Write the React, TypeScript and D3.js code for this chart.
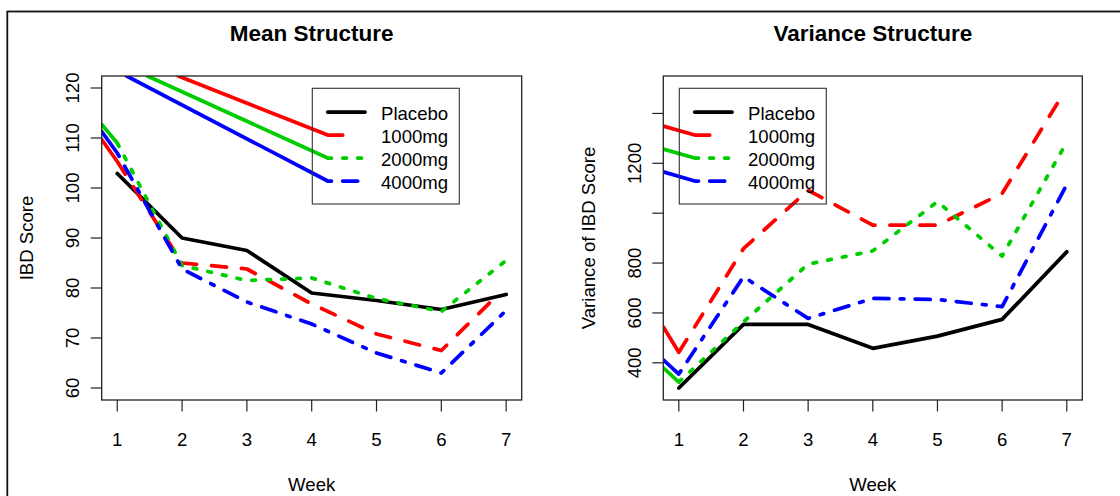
import * as d3 from "d3";

// weeks and dose groups
const weeks = [1, 2, 3, 4, 5, 6, 7];
const doseNames = ["Placebo", "1000mg", "2000mg", "4000mg"];

// mean IBD score per week
const meanPlacebo = [102.9, 90.0, 87.5, 79.0, 77.5, 75.7, 78.7];
const mean1000 = [105.3, 85.0, 83.8, 76.8, 70.8, 67.5, 80.3];
const mean2000 = [109.0, 84.5, 81.5, 82.0, 77.9, 75.3, 85.5];
const mean4000 = [107.0, 83.8, 77.2, 72.8, 67.0, 63.0, 75.5];

// variance of IBD score per week
const varPlacebo = [299, 554, 554, 458, 507, 574, 845];
const var1000 = [442, 858, 1092, 952, 952, 1079, 1502];
const var2000 = [323, 564, 796, 849, 1046, 828, 1285];
const var4000 = [355, 745, 578, 658, 654, 625, 1115];

// tick values
const meanTicks = [60, 70, 80, 90, 100, 110, 120];
const meanLimits = [60, 120];
const varTicks = [400, 600, 800, 1000, 1200, 1400];
const varTickLabels = [400, 600, 800, 1200];

// stray first segments in the original rendering (week, value)
const meanLineStarts = [null, [0.76, 109.7], [0.76, 112.7], [0.76, 111.3]];
const meanLegendStarts = [null, [1.942, 122.4], [1.466, 122.4], [1.145, 122.4]];
const varLineStarts = [null, [0.76, 544], [0.76, 380], [0.76, 412]];
const varLegendStarts = [null, [0.76, 1349], [0.76, 1257], [0.76, 1166]];

const colors = ["#000000", "#ff0000", "#00cd00", "#0000ff"];
const LWD = 3.75;
const patterns = [null, [4, 4], [1, 3], [1, 3, 4, 3]].map((p) =>
  p ? p.map((v) => v * LWD) : null
);
const FONT = "'Liberation Sans', Arial, Helvetica, sans-serif";

// split a polyline into the complete dashes of a pattern
function dashPieces(pts, pattern) {
  if (!pattern) return [pts];
  const pieces = [];
  let pi = 0;
  let remain = pattern[0];
  let on = true;
  let cur = [pts[0]];
  for (let i = 0; i < pts.length - 1; i++) {
    const [x0, y0] = pts[i];
    const [x1, y1] = pts[i + 1];
    const segLen = Math.hypot(x1 - x0, y1 - y0);
    let pos = 0;
    while (segLen - pos >= remain) {
      pos += remain;
      const t = pos / segLen;
      const p = [x0 + (x1 - x0) * t, y0 + (y1 - y0) * t];
      if (on) {
        cur.push(p);
        pieces.push(cur);
        cur = null;
      } else {
        cur = [p];
      }
      on = !on;
      pi = (pi + 1) % pattern.length;
      remain = pattern[pi];
    }
    remain -= segLen - pos;
    if (on && cur) cur.push([x1, y1]);
  }
  return pieces;
}

const line = d3.line();

function Panel({ id, x0, x1, title, ylab, series, yLim, ticks, tickLabels, lineStarts, legendStarts, legendX }) {
  const y0 = 76;
  const y1 = 400;
  const xs = d3.scaleLinear().domain([0.76, 7.24]).range([x0, x1]);
  const pad = (yLim[1] - yLim[0]) * 0.04;
  const ys = d3.scaleLinear().domain([yLim[0] - pad, yLim[1] + pad]).range([y1, y0]);
  const cx = (x0 + x1) / 2;
  const cy = (y0 + y1) / 2;

  const legendTop = 88.3;
  const rowY = (i) => 112 + i * 23;
  const sx0 = legendX + 15.4;
  const sx1 = legendX + 52.7;

  const drawPieces = (pieces, i, key) =>
    pieces.map((pc, j) => (
      <path
        key={key + "-" + j}
        d={line(pc)}
        fill="none"
        stroke={colors[i]}
        strokeWidth={LWD}
        strokeLinecap="round"
        strokeLinejoin="round"
      />
    ));

  return (
    <g fontFamily={FONT}>
      <defs>
        <clipPath id={id}>
          <rect x={x0} y={y0} width={x1 - x0} height={y1 - y0} />
        </clipPath>
      </defs>
      <text x={cx} y={40.5} textAnchor="middle" fontSize={22.5} fontWeight="bold">
        {title}
      </text>
      <g clipPath={`url(#${id})`}>
        {series.map((vals, i) => {
          const pts = weeks.map((w, k) => [xs(w), ys(vals[k])]);
          const pieces = dashPieces(pts, patterns[i]);
          const st = lineStarts[i];
          if (st && pieces.length) pieces[0] = [[xs(st[0]), ys(st[1])], ...pieces[0]];
          return <g key={"s" + i}>{drawPieces(pieces, i, "s" + i)}</g>;
        })}
        {series.map((_, i) => {
          const pts = [
            [sx0, rowY(i)],
            [sx1, rowY(i)],
          ];
          const pieces = dashPieces(pts, patterns[i]);
          const st = legendStarts[i];
          if (st && pieces.length) pieces[0] = [[xs(st[0]), ys(st[1])], ...pieces[0]];
          return <g key={"l" + i}>{drawPieces(pieces, i, "l" + i)}</g>;
        })}
      </g>
      <rect x={legendX} y={legendTop} width={147} height={115.7} fill="none" stroke="#333" strokeWidth={1.1} />
      {doseNames.map((n, i) => (
        <text key={n} x={legendX + 68.7} y={rowY(i) + 7.5} fontSize={18.6}>
          {n}
        </text>
      ))}
      <rect x={x0} y={y0} width={x1 - x0} height={y1 - y0} fill="none" stroke="#222" strokeWidth={1.3} />
      {weeks.map((w) => (
        <g key={"x" + w}>
          <line x1={xs(w)} x2={xs(w)} y1={y1} y2={y1 + 11.5} stroke="#222" strokeWidth={1.2} />
          <text x={xs(w)} y={446} textAnchor="middle" fontSize={18.6}>
            {w}
          </text>
        </g>
      ))}
      {ticks.map((t) => (
        <g key={"y" + t}>
          <line x1={x0 - 11} x2={x0} y1={ys(t)} y2={ys(t)} stroke="#222" strokeWidth={1.2} />
          {tickLabels.includes(t) && (
            <text
              transform={`translate(${x0 - 22.5},${ys(t)}) rotate(-90)`}
              textAnchor="middle"
              fontSize={18.6}
            >
              {t}
            </text>
          )}
        </g>
      ))}
      <text x={cx} y={490.5} textAnchor="middle" fontSize={18.6}>
        Week
      </text>
      <text transform={`translate(${x0 - 68.3},${cy}) rotate(-90)`} textAnchor="middle" fontSize={18.6}>
        {ylab}
      </text>
    </g>
  );
}

export default function App() {
  const varAll = [...varPlacebo, ...var1000, ...var2000, ...var4000];
  const varLim = d3.extent(varAll);
  return (
    <svg
      width={1120}
      height={496}
      style={{ position: "fixed", left: 0, top: 0, background: "#fff" }}
    >
      <rect x={0} y={0} width={1120} height={496} fill="#fff" />
      <rect x={7.3} y={11.5} width={1300} height={700} fill="none" stroke="#111" strokeWidth={1.8} />
      <Panel
        id="clipMean"
        x0={101.7}
        x1={521.7}
        title="Mean Structure"
        ylab="IBD Score"
        series={[meanPlacebo, mean1000, mean2000, mean4000]}
        yLim={meanLimits}
        ticks={meanTicks}
        tickLabels={meanTicks}
        lineStarts={meanLineStarts}
        legendStarts={meanLegendStarts}
        legendX={312.3}
      />
      <Panel
        id="clipVar"
        x0={663.3}
        x1={1082.3}
        title="Variance Structure"
        ylab="Variance of IBD Score"
        series={[varPlacebo, var1000, var2000, var4000]}
        yLim={varLim}
        ticks={varTicks}
        tickLabels={varTickLabels}
        lineStarts={varLineStarts}
        legendStarts={varLegendStarts}
        legendX={679.3}
      />
    </svg>
  );
}
